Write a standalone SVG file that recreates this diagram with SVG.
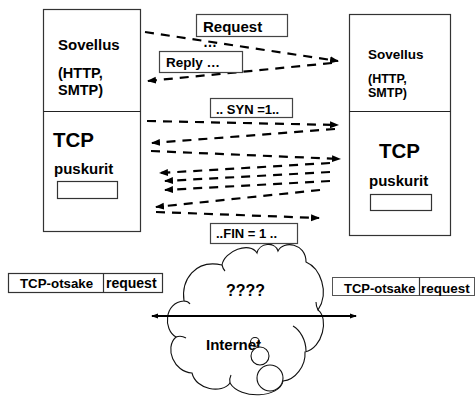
<svg xmlns="http://www.w3.org/2000/svg" width="475" height="396" viewBox="0 0 475 396">
  <style>
    text { font-family: "Liberation Sans", Arial, sans-serif; font-weight: bold; fill: #000; }
    .box { fill: #fff; stroke: #333; stroke-width: 1.2; }
    .lbl { fill: #fff; stroke: #444; stroke-width: 1.2; }
    .msg { fill: none; stroke: #000; stroke-width: 2.2; stroke-dasharray: 9 7; marker-end: url(#head); }
    .cloud { fill: #fff; stroke: #111; stroke-width: 1.1; }
    .hook { fill: none; stroke: #111; stroke-width: 1.1; }
  </style>
  <defs>
    <marker id="head" markerUnits="userSpaceOnUse" markerWidth="10" markerHeight="8" refX="8" refY="4" orient="auto">
      <path d="M0,0.5 L9,4 L0,7.5 z" fill="#000"/>
    </marker>
    <marker id="small" markerUnits="userSpaceOnUse" markerWidth="8" markerHeight="6" refX="6" refY="3" orient="auto-start-reverse">
      <path d="M0,0.5 L7,3 L0,5.5 z" fill="#000"/>
    </marker>
  </defs>

  <rect width="475" height="396" fill="#fff"/>

  <!-- left host -->
  <g id="host-left">
    <rect class="box" x="43.5" y="9.5" width="97" height="222"/>
    <line x1="43.5" y1="111.5" x2="140.5" y2="111.5" stroke="#222" stroke-width="1.2"/>
    <text x="58" y="50" font-size="15">Sovellus</text>
    <text x="58" y="78" font-size="14.5">(HTTP,</text>
    <text x="58" y="94.5" font-size="14.5">SMTP)</text>
    <text x="53" y="146.5" font-size="20.5">TCP</text>
    <text x="54" y="174" font-size="15">puskurit</text>
    <rect class="box" x="57.5" y="181.5" width="60" height="17"/>
  </g>

  <!-- right host -->
  <g id="host-right">
    <rect class="box" x="349.5" y="14.5" width="101" height="221"/>
    <line x1="349.5" y1="111.5" x2="450.5" y2="111.5" stroke="#222" stroke-width="1.2"/>
    <text x="368" y="59" font-size="13.5">Sovellus</text>
    <text x="368" y="82.5" font-size="12.5">(HTTP,</text>
    <text x="368" y="97" font-size="12.5">SMTP)</text>
    <text x="379" y="158" font-size="20.5">TCP</text>
    <text x="369" y="186" font-size="15">puskurit</text>
    <rect class="box" x="370.5" y="194.5" width="61" height="16"/>
  </g>

  <!-- message exchange between the hosts -->
  <g id="connectors">
    <line class="msg" x1="145" y1="32" x2="338" y2="61"/>
    <line class="msg" x1="332" y1="63" x2="148" y2="81"/>
    <line class="msg" x1="147" y1="121" x2="338" y2="125"/>
    <line class="msg" x1="335" y1="129" x2="152" y2="143"/>
    <line class="msg" x1="151" y1="151" x2="340" y2="159"/>
    <line class="msg" x1="330" y1="163" x2="160" y2="173"/>
    <line class="msg" x1="330" y1="172" x2="165" y2="181"/>
    <line class="msg" x1="330" y1="181" x2="165" y2="190"/>
    <line class="msg" x1="320" y1="190" x2="156" y2="207"/>
    <line class="msg" x1="156" y1="212" x2="319" y2="218"/>
  </g>

  <!-- message labels -->
  <g id="label-request">
    <rect class="lbl" x="196.5" y="14.5" width="91" height="22"/>
    <text x="203" y="32" font-size="15">Request</text>
    <text x="203" y="47" font-size="14">…</text>
  </g>
  <g id="label-reply">
    <rect class="lbl" x="159.5" y="51.5" width="83" height="21"/>
    <text x="166" y="67" font-size="13.5">Reply …</text>
  </g>
  <g id="label-syn">
    <rect class="lbl" x="210.5" y="98.5" width="82" height="19"/>
    <text x="216" y="114" font-size="13">.. SYN =1..</text>
  </g>
  <g id="label-fin">
    <rect class="lbl" x="210.5" y="223.5" width="87" height="20"/>
    <text x="216" y="238" font-size="13">..FIN = 1 ..</text>
  </g>

  <!-- segment layouts -->
  <g id="segment-left">
    <rect x="8.5" y="273.5" width="154" height="19" fill="#fff" stroke="#333" stroke-width="1.2"/>
    <line x1="103.5" y1="273.5" x2="103.5" y2="292.5" stroke="#333" stroke-width="1.2"/>
    <text x="20" y="288" font-size="13.3">TCP-otsake</text>
    <text x="106" y="288" font-size="14">request</text>
  </g>
  <g id="segment-right">
    <rect x="332.5" y="277.5" width="142" height="18" fill="#fff" stroke="#555" stroke-width="1"/>
    <line x1="419.5" y1="277.5" x2="419.5" y2="295.5" stroke="#333" stroke-width="1.2"/>
    <text x="344" y="293" font-size="13">TCP-otsake</text>
    <text x="421" y="293" font-size="13.5">request</text>
  </g>

  <!-- internet cloud -->
  <g id="cloud">
    <path class="cloud" d="M184,301 C181,280 195,259 222,265 C224,251 250,241 257,253 C259,243 275,241 278,251 C283,240 306,243 306,262 C320,268 330,292 318,310 C329,318 323,348 305,352 C306,366 295,380 283,381 C280,398 240,400 230,383 C222,394 196,390 192,373 C174,372 164,348 176,337 C163,330 164,302 184,301 Z"/>
    <path class="hook" d="M293,326 C300,330 306,340 306,351"/>
    <path class="hook" d="M176,337 Q181,335 186,338"/>
    <path class="hook" d="M184,301 Q188,301 190,304"/>
    <path class="hook" d="M222,265 Q223,269 225,271"/>
    <path class="hook" d="M318,310 Q316,306 316,302"/>
    <path class="hook" d="M230,383 Q229,379 231,375"/>
    <line x1="152" y1="316" x2="356" y2="316" stroke="#000" stroke-width="1.8" marker-start="url(#small)" marker-end="url(#small)"/>
    <text x="226" y="296" font-size="16">????</text>
    <text x="206" y="350" font-size="15">Internet</text>
    <circle cx="255" cy="342" r="4.5" fill="none" stroke="#111" stroke-width="1.1"/>
    <circle cx="260" cy="356" r="9" fill="#fff" stroke="#111" stroke-width="1.1"/>
    <circle cx="270" cy="378" r="13" fill="#fff" stroke="#111" stroke-width="1.1"/>
  </g>
</svg>
